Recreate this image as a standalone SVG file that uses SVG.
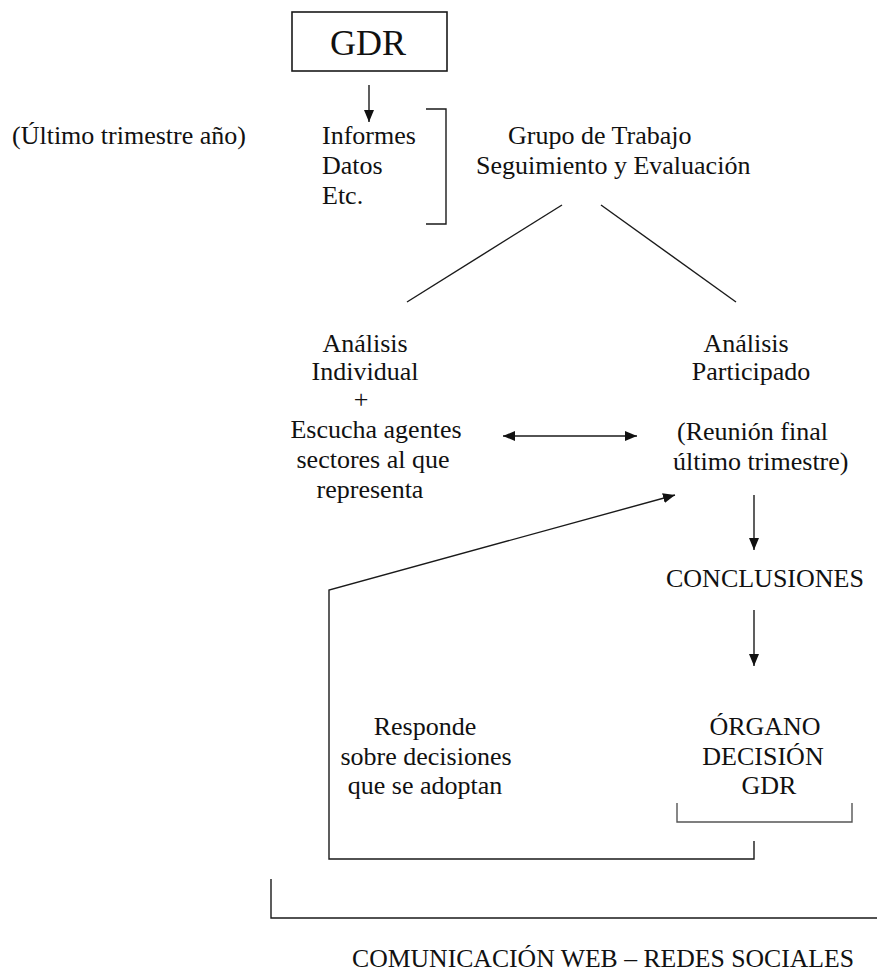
<svg xmlns="http://www.w3.org/2000/svg" width="877" height="973" viewBox="0 0 877 973">
<style>
text{font-family:"Liberation Serif","Times New Roman",serif;font-size:26px;fill:#111;}
.c{text-anchor:middle;}
.ln{fill:none;stroke:#1a1a1a;stroke-width:1.4;}
.gr{fill:none;stroke:#555;stroke-width:1.4;}
</style>
<defs>
<marker id="ah" viewBox="0 0 12 10" refX="12" refY="5" markerWidth="12" markerHeight="10" markerUnits="userSpaceOnUse" orient="auto-start-reverse">
<path d="M0,0 L12,5 L0,10 Z" fill="#111"/>
</marker>
</defs>
<rect width="877" height="973" fill="#fff"/>

<g id="gdr">
<rect x="292" y="12" width="155" height="59" fill="#fff" stroke="#1a1a1a" stroke-width="1.6"/>
<text x="368" y="55" class="c" style="font-size:36px">GDR</text>
</g>

<g id="ultimo-trimestre">
<text x="12" y="144">(Último trimestre año)</text>
</g>

<g id="informes">
<text x="322" y="144">Informes</text>
<text x="322" y="174">Datos</text>
<text x="322" y="204">Etc.</text>
</g>

<g id="grupo-trabajo">
<text x="508" y="144">Grupo de Trabajo</text>
<text x="476" y="174">Seguimiento y Evaluación</text>
</g>

<g id="analisis-individual">
<text x="365" y="352" class="c">Análisis</text>
<text x="365" y="380" class="c">Individual</text>
<text x="361" y="408" class="c">+</text>
<text x="376" y="438" class="c">Escucha agentes</text>
<text x="373" y="468" class="c">sectores al que</text>
<text x="370" y="498" class="c">representa</text>
</g>

<g id="analisis-participado">
<text x="746" y="352" class="c">Análisis</text>
<text x="751" y="380" class="c">Participado</text>
<text x="677" y="440">(Reunión final</text>
<text x="673" y="470">último trimestre)</text>
</g>

<g id="conclusiones">
<text x="666" y="587">CONCLUSIONES</text>
</g>

<g id="responde">
<text x="425" y="735" class="c">Responde</text>
<text x="426" y="765" class="c">sobre decisiones</text>
<text x="425" y="794" class="c">que se adoptan</text>
</g>

<g id="organo-decision">
<text x="765" y="735" class="c">ÓRGANO</text>
<text x="763" y="765" class="c">DECISIÓN</text>
<text x="769" y="794" class="c">GDR</text>
<path class="gr" d="M677,803 V822 H852 V803"/>
</g>

<g id="comunicacion">
<path class="ln" d="M271,879 V918 H877"/>
<text x="352" y="967" textLength="502" lengthAdjust="spacingAndGlyphs">COMUNICACIÓN WEB – REDES SOCIALES</text>
</g>

<g id="connectors">
<line class="ln" x1="369" y1="85" x2="369" y2="122" marker-end="url(#ah)"/>
<path class="ln" d="M426,109 H446 V224 H426"/>
<line class="ln" x1="562" y1="205" x2="407" y2="302"/>
<line class="ln" x1="601" y1="205" x2="736" y2="302"/>
<line class="ln" x1="503" y1="436" x2="637" y2="436" marker-start="url(#ah)" marker-end="url(#ah)"/>
<line class="ln" x1="754" y1="495" x2="754" y2="550" marker-end="url(#ah)"/>
<line class="ln" x1="754" y1="610" x2="754" y2="666" marker-end="url(#ah)"/>
<path class="ln" d="M754,841 V859 H329 V590 L675,495" marker-end="url(#ah)"/>
</g>
</svg>
